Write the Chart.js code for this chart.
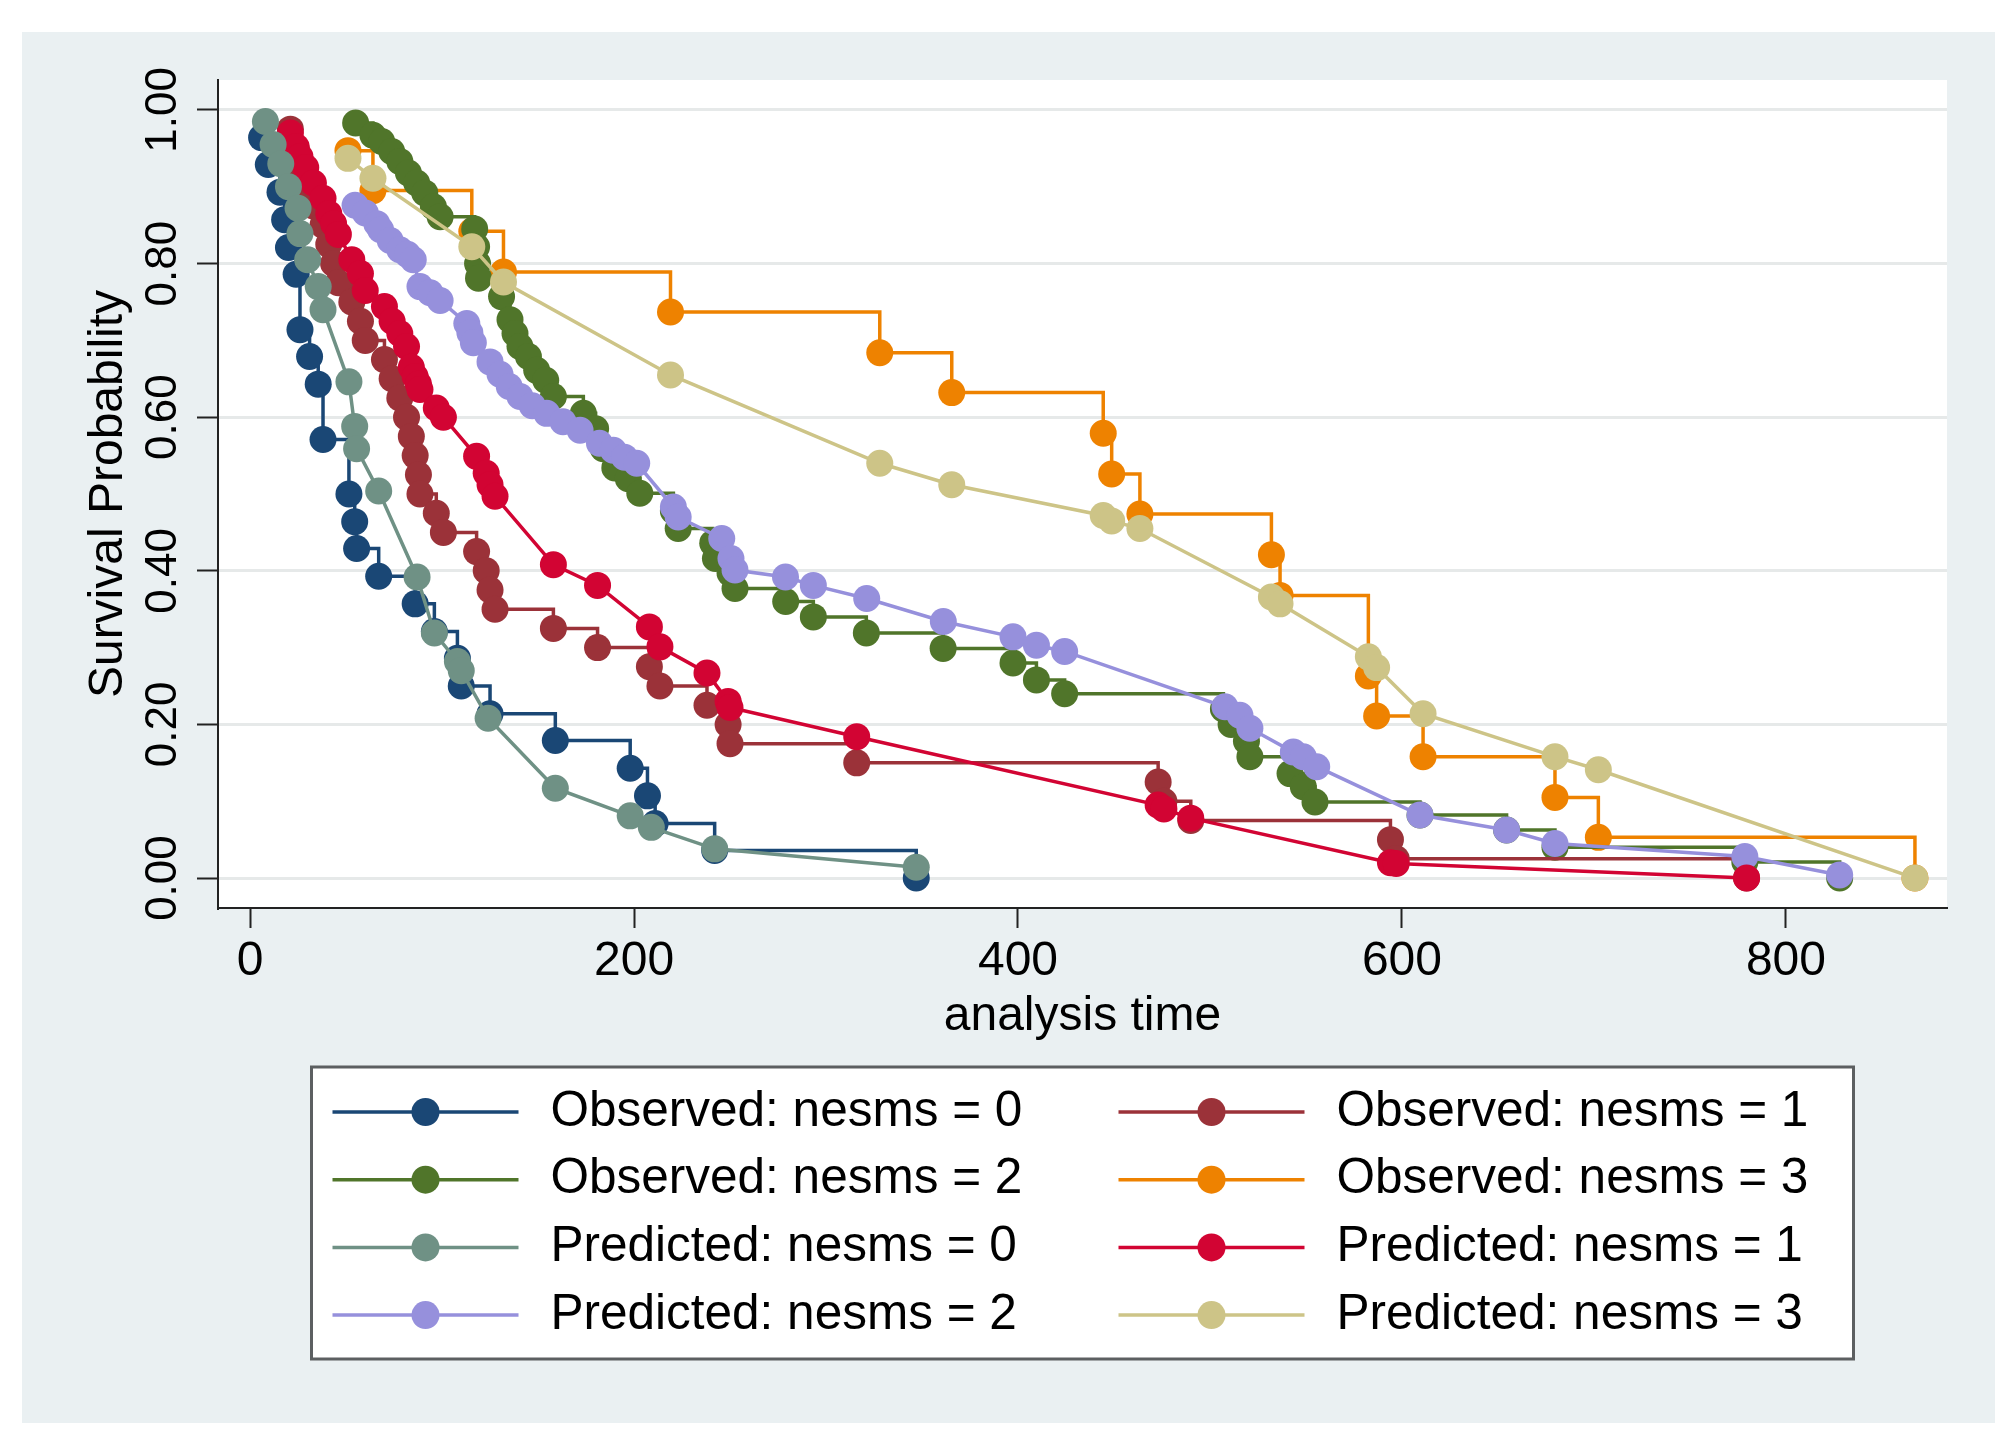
<!DOCTYPE html>
<html>
<head>
<meta charset="utf-8">
<title>Observed vs predicted survival</title>
<script src="https://cdn.jsdelivr.net/npm/chart.js@4.4.1/dist/chart.umd.min.js"></script>
<style>
  html, body { margin: 0; padding: 0; background: #ffffff; }
  #wrap { width: 2010px; height: 1449px; }
</style>
</head>
<body>
<div id="wrap"><canvas id="km-chart" width="2010" height="1449"></canvas></div>
<script>
"use strict";

// ─── Axis ticks ────────────────────────────────────────────────────────────
const X_TICKS = [0, 200, 400, 600, 800];
const Y_TICKS = [0, 0.2, 0.4, 0.6, 0.8, 1.0];

// ─── Observed (Kaplan-Meier) curves: time / survival ────────────────────────
const OBS0_T = [6, 9.5, 15.6, 18, 20, 24, 26, 31, 35.5, 38, 51.5, 54.5, 55.5, 67, 86, 96, 108, 110, 125, 159, 198, 207, 211, 242, 347];
const OBS0_S = [0.964, 0.929, 0.893, 0.857, 0.821, 0.786, 0.714, 0.679, 0.643, 0.571, 0.5, 0.464, 0.429, 0.393, 0.357, 0.321, 0.286, 0.25, 0.214, 0.179, 0.143, 0.107, 0.071, 0.036, 0];

const OBS1_T = [21, 24, 26, 29, 33, 38, 41, 43.5, 46, 53, 57.5, 60, 70, 74, 78, 81.5, 84, 86, 87.7, 88.5, 97, 100.7, 118, 123, 125, 127.6, 158, 181, 208, 213.5, 238, 249, 250, 316, 473, 476, 490, 594, 597, 779.5];
const OBS1_S = [0.975, 0.95, 0.925, 0.9, 0.875, 0.85, 0.825, 0.8, 0.775, 0.75, 0.725, 0.7, 0.675, 0.65, 0.625, 0.6, 0.575, 0.55, 0.525, 0.5, 0.475, 0.45, 0.425, 0.4, 0.375, 0.35, 0.325, 0.3, 0.275, 0.25, 0.225, 0.2, 0.175, 0.15, 0.125, 0.1, 0.075, 0.05, 0.025, 0];

const OBS2_T = [55, 64, 68.6, 73.8, 78, 82.5, 86.8, 91, 95.5, 99, 117, 118, 118.5, 119, 131, 135.4, 138, 140.6, 145, 149.3, 154, 158, 173.6, 180, 184, 190, 197, 203, 220.5, 223, 241, 242.4, 250, 252.6, 279, 293.4, 321, 361, 397.4, 409.6, 424.3, 507, 511, 519, 520.8, 541.7, 548.6, 554.7, 609.4, 654.5, 679.7, 778.6, 828];
const OBS2_S = [0.983, 0.967, 0.959, 0.946, 0.933, 0.918, 0.905, 0.892, 0.874, 0.861, 0.845, 0.822, 0.8, 0.781, 0.757, 0.727, 0.709, 0.692, 0.679, 0.661, 0.648, 0.627, 0.605, 0.585, 0.559, 0.534, 0.52, 0.501, 0.478, 0.455, 0.436, 0.416, 0.397, 0.377, 0.36, 0.34, 0.319, 0.299, 0.28, 0.258, 0.24, 0.22, 0.2, 0.178, 0.158, 0.136, 0.119, 0.099, 0.082, 0.0625, 0.04, 0.021, 0];

const OBS3_T = [51, 64, 115.5, 132, 219, 328, 365.5, 444.4, 448.8, 463.5, 532, 536.5, 582.5, 586.8, 611, 679.7, 702.3, 867.2];
const OBS3_S = [0.947, 0.895, 0.842, 0.789, 0.737, 0.684, 0.632, 0.579, 0.526, 0.474, 0.421, 0.368, 0.263, 0.211, 0.158, 0.105, 0.053, 0];

// ─── Predicted (Cox) curves: time / survival ────────────────────────────────
const PRED0_T = [8, 12, 16, 20, 25, 26, 30, 35.5, 38, 51.5, 54.5, 55.5, 67, 87, 96, 108, 110, 124, 159, 198, 209, 242, 347];
const PRED0_S = [0.985, 0.955, 0.93, 0.9, 0.872, 0.839, 0.805, 0.77, 0.74, 0.646, 0.588, 0.559, 0.504, 0.392, 0.319, 0.282, 0.27, 0.208, 0.117, 0.081, 0.066, 0.038, 0.014];

const PRED1_T = OBS1_T;
const PRED1_S = [0.97, 0.952, 0.939, 0.925, 0.905, 0.885, 0.865, 0.852, 0.838, 0.805, 0.787, 0.765, 0.744, 0.725, 0.709, 0.692, 0.665, 0.653, 0.643, 0.636, 0.612, 0.6, 0.549, 0.527, 0.512, 0.497, 0.408, 0.381, 0.327, 0.301, 0.267, 0.23, 0.222, 0.184, 0.095, 0.09, 0.078, 0.02, 0.019, 0];

const PRED2_T = [54.7, 60, 66, 68, 73, 78, 82, 85, 88.5, 93.8, 99, 112.9, 114.5, 116.3, 125, 130.2, 135, 140.6, 147, 154.5, 163, 171.9, 182, 189.2, 195, 201.4, 220.5, 223, 245.7, 250.5, 252.6, 278.9, 293.4, 321.2, 361.1, 397.4, 409.6, 424.3, 507.8, 515.6, 520.8, 543.4, 548.6, 555.6, 609.4, 654.5, 679.7, 778.6, 828];
const PRED2_S = [0.876, 0.866, 0.852, 0.844, 0.83, 0.818, 0.812, 0.805, 0.77, 0.762, 0.752, 0.722, 0.71, 0.697, 0.672, 0.656, 0.64, 0.627, 0.615, 0.605, 0.594, 0.583, 0.566, 0.557, 0.548, 0.54, 0.483, 0.47, 0.442, 0.416, 0.401, 0.392, 0.381, 0.364, 0.334, 0.314, 0.303, 0.295, 0.223, 0.212, 0.195, 0.164, 0.158, 0.145, 0.082, 0.0625, 0.045, 0.028, 0.004];

const PRED3_T = OBS3_T;
const PRED3_S = [0.937, 0.911, 0.822, 0.776, 0.655, 0.54, 0.512, 0.472, 0.465, 0.455, 0.366, 0.357, 0.288, 0.274, 0.214, 0.158, 0.141, 0];

// ─── Stata s2color-ish palette ──────────────────────────────────────────────
const COL = {
  navy:     "#1a4775",
  maroon:   "#9b3239",
  green:    "#50752a",
  orange:   "#ee8200",
  teal:     "#6f9185",
  red:      "#d20433",
  lavender: "#9690dc",
  khaki:    "#cdc487",
};

// axis ranges (plot region runs a bit past the ticks, like Stata)
const X_MIN = -16.7, X_MAX = 883.9;
const Y_MIN = -0.039, Y_MAX = 1.039;

const FONT = '"Liberation Sans", Arial, Helvetica, sans-serif';
Chart.defaults.font.family = FONT;
Chart.defaults.color       = "#000";

function pts(ts, ss) {
  return ts.map((t, i) => ({ x: t, y: ss[i] }));
}

function series(label, ts, ss, colour, observed) {
  return {
    label,
    data:                 pts(ts, ss),
    borderColor:          colour,
    backgroundColor:      colour,
    pointBackgroundColor: colour,
    borderWidth:          3.5,
    pointRadius:          13.5,
    pointHoverRadius:     13.5,
    pointBorderWidth:     0,
    tension:              0,
    stepped:              observed ? "before" : false,
    order:                observed ? 1 : 0,   // predicted on top
  };
}

// legend order (row-major, two columns)
const datasets = [
  series("Observed: nesms = 0",  OBS0_T,  OBS0_S,  COL.navy,     true),
  series("Observed: nesms = 1",  OBS1_T,  OBS1_S,  COL.maroon,   true),
  series("Observed: nesms = 2",  OBS2_T,  OBS2_S,  COL.green,    true),
  series("Observed: nesms = 3",  OBS3_T,  OBS3_S,  COL.orange,   true),
  series("Predicted: nesms = 0", PRED0_T, PRED0_S, COL.teal,     false),
  series("Predicted: nesms = 1", PRED1_T, PRED1_S, COL.red,      false),
  series("Predicted: nesms = 2", PRED2_T, PRED2_S, COL.lavender, false),
  series("Predicted: nesms = 3", PRED3_T, PRED3_S, COL.khaki,    false),
];

// ─── Plugins: graph-region backdrop + boxed two-column legend ──────────────
const backdrop = {
  id: "backdrop",
  beforeDraw(chart) {
    const { ctx, chartArea: a } = chart;
    ctx.save();
    ctx.fillStyle = "#ffffff";
    ctx.fillRect(0, 0, chart.width, chart.height);
    ctx.fillStyle = "#eaf0f2";
    ctx.fillRect(22, 32, chart.width - 37, chart.height - 58);
    ctx.fillStyle = "#ffffff";
    ctx.fillRect(a.left, a.top, a.right - a.left, a.bottom - a.top);
    ctx.restore();
  },
};

const stataLegend = {
  id: "stataLegend",
  afterDraw(chart) {
    const { ctx, chartArea: a } = chart;
    const w = 1542, h = 292;
    const left = (a.left + a.right) / 2 - w / 2;
    const top  = chart.scales.x.bottom + 19;
    ctx.save();
    ctx.fillStyle = "#ffffff";
    ctx.fillRect(left, top, w, h);
    ctx.lineWidth   = 3;
    ctx.strokeStyle = "#5c5f61";
    ctx.strokeRect(left, top, w, h);
    ctx.font         = "49.5px " + FONT;
    ctx.textBaseline = "middle";
    chart.data.datasets.forEach((ds, i) => {
      const x0 = left + (i % 2 ? 807 : 21);
      const y  = top + 45 + Math.floor(i / 2) * 67.7;
      ctx.strokeStyle = ds.borderColor;
      ctx.lineWidth   = 3.5;
      ctx.beginPath(); ctx.moveTo(x0, y); ctx.lineTo(x0 + 186, y); ctx.stroke();
      ctx.fillStyle = ds.pointBackgroundColor;
      ctx.beginPath(); ctx.arc(x0 + 93, y, 14, 0, Math.PI * 2); ctx.fill();
      ctx.fillStyle = "#000";
      ctx.fillText(ds.label, x0 + 218, y);
    });
    ctx.restore();
  },
};

// ─── Chart ─────────────────────────────────────────────────────────────────
new Chart(document.getElementById("km-chart"), {
  type: "line",
  data: { datasets },
  options: {
    responsive:       false,
    animation:        false,
    devicePixelRatio: 1,
    layout: { autoPadding: false, padding: { left: 0, top: 80, right: 63, bottom: 401 } },
    plugins: { legend: { display: false }, tooltip: { enabled: false } },
    scales: {
      x: {
        type: "linear",
        min:  X_MIN,
        max:  X_MAX,
        afterBuildTicks: s => { s.ticks = X_TICKS.map(v => ({ value: v })); },
        afterFit:        s => { s.height = 140; },
        ticks:  { font: { size: 48 }, color: "#000", padding: 5, maxRotation: 0, autoSkip: false,
                  callback: v => String(v) },
        grid:   { drawOnChartArea: false, tickLength: 20, tickColor: "#222", tickWidth: 2 },
        border: { display: true, color: "#222", width: 2 },
        title:  { display: true, text: "analysis time", font: { size: 48 }, color: "#000",
                  padding: { top: 0, bottom: 2 } },
      },
      y: {
        type: "linear",
        min:  Y_MIN,
        max:  Y_MAX,
        afterBuildTicks: s => { s.ticks = Y_TICKS.map(v => ({ value: v })); },
        afterFit:        s => { s.width = 218; },
        ticks:  { font: { size: 44 }, color: "#000", padding: -10, minRotation: 90, maxRotation: 90,
                  crossAlign: "center", callback: v => Number(v).toFixed(2) },
        grid:   { color: "#e6e9e9", lineWidth: 3, tickLength: 21, tickColor: "#222", tickWidth: 2 },
        border: { display: true, color: "#222", width: 2 },
        title:  { display: true, text: "Survival Probability", font: { size: 48 }, color: "#000",
                  padding: { top: 80, bottom: 0 } },
      },
    },
  },
  plugins: [backdrop, stataLegend],
});
</script>
</body>
</html>
